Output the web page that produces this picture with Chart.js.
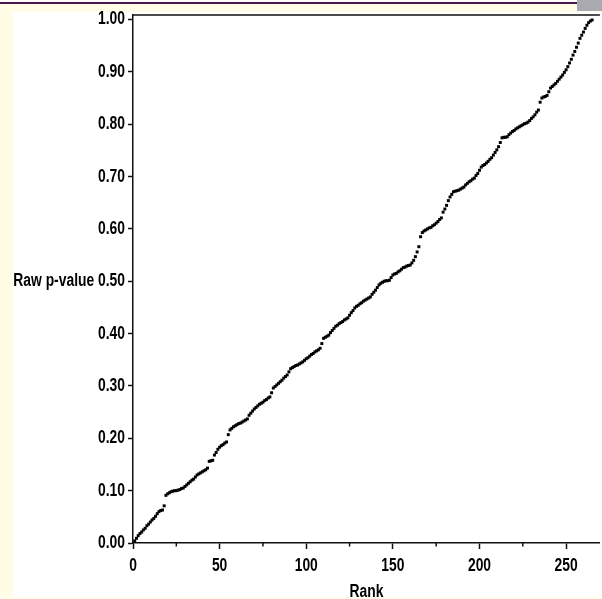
<!DOCTYPE html>
<html><head><meta charset="utf-8">
<script src="https://cdn.jsdelivr.net/npm/chart.js@4.4.1/dist/chart.umd.min.js"></script>
<style>
html,body{margin:0;padding:0;overflow:hidden;background:#fffde6;}
#wrap{position:absolute;left:0;top:0;width:602px;height:599px;}
</style></head>
<body><div id="wrap"><canvas id="c" width="602" height="599"></canvas></div>
<script>
// Raw p-values sorted by rank (rank = position, 1..265)
const pValues = [
0.004,0.009,0.014,0.018,0.021,0.025,0.028,0.033,0.036,0.040,
0.044,0.047,0.051,0.056,0.060,0.062,0.063,0.071,0.091,0.094,
0.096,0.098,0.099,0.100,0.100,0.101,0.102,0.104,0.105,0.108,
0.111,0.114,0.117,0.120,0.122,0.126,0.130,0.132,0.134,0.136,
0.138,0.140,0.143,0.156,0.157,0.158,0.168,0.173,0.179,0.183,
0.186,0.188,0.191,0.193,0.207,0.216,0.219,0.222,0.224,0.226,
0.228,0.229,0.231,0.233,0.235,0.237,0.244,0.248,0.252,0.256,
0.259,0.262,0.265,0.267,0.269,0.272,0.274,0.277,0.279,0.287,
0.296,0.299,0.302,0.305,0.308,0.311,0.315,0.318,0.321,0.327,
0.333,0.335,0.337,0.339,0.340,0.342,0.344,0.346,0.349,0.352,
0.354,0.357,0.360,0.362,0.365,0.367,0.369,0.372,0.381,0.391,
0.393,0.395,0.397,0.402,0.406,0.410,0.414,0.416,0.419,0.421,
0.423,0.426,0.428,0.430,0.435,0.440,0.444,0.449,0.452,0.454,
0.457,0.459,0.462,0.464,0.466,0.468,0.470,0.475,0.479,0.483,
0.488,0.493,0.496,0.498,0.500,0.501,0.501,0.502,0.507,0.512,
0.514,0.515,0.518,0.520,0.523,0.526,0.527,0.529,0.530,0.531,
0.535,0.540,0.547,0.556,0.566,0.585,0.593,0.596,0.598,0.600,
0.602,0.603,0.606,0.608,0.611,0.614,0.618,0.621,0.632,0.638,
0.645,0.654,0.661,0.666,0.671,0.672,0.673,0.674,0.676,0.678,
0.680,0.684,0.687,0.690,0.692,0.695,0.697,0.702,0.706,0.712,
0.718,0.721,0.723,0.726,0.729,0.733,0.736,0.741,0.746,0.751,
0.757,0.765,0.774,0.775,0.775,0.776,0.780,0.783,0.786,0.788,
0.791,0.793,0.795,0.797,0.799,0.801,0.802,0.804,0.807,0.811,
0.814,0.818,0.823,0.827,0.842,0.850,0.852,0.853,0.855,0.862,
0.869,0.872,0.875,0.878,0.882,0.886,0.890,0.894,0.899,0.904,
0.910,0.917,0.924,0.932,0.939,0.947,0.955,0.964,0.970,0.976,
0.983,0.989,0.994,0.997,0.999
];
const xMajorTicks = [0,50,100,150,200,250];
const xMinorTicks = [25,75,125,175,225];
const yTickLabels = ['0.00','0.10','0.20','0.30','0.40','0.50','0.60','0.70','0.80','0.90','1.00'];
const yTitle = 'Raw p-value';
const xTitle = 'Rank';

const FONT = "'Liberation Sans Narrow','Arial Narrow','Liberation Sans',Arial,sans-serif";
const NARROW = 0.77;   // horizontal condensing of text (Arial Narrow look)
const AXIS = '#111111';

const canvas = document.getElementById('c');
const ctx2d = canvas.getContext('2d');
const origFill = ctx2d.fillText.bind(ctx2d);
ctx2d.fillText = function (text, x, y, maxWidth) {
  this.save();
  this.translate(x, y);
  this.scale(NARROW, 1);
  if (maxWidth !== undefined) origFill(text, 0, 0, maxWidth / NARROW);
  else origFill(text, 0, 0);
  this.restore();
};

const points = pValues.map((p, i) => ({x: i + 1, y: p}));

const decor = {
  id: 'decor',
  beforeDraw(chart) {
    const c = chart.ctx;
    c.save();
    c.fillStyle = '#fffde6'; c.fillRect(0, 0, 602, 599);
    c.fillStyle = '#ffffff'; c.fillRect(0, 0, 602, 2);
    c.fillStyle = '#ffffff'; c.fillRect(13, 12, 589, 585);
    c.fillStyle = '#4a1848'; c.fillRect(0, 2, 577, 2);
    c.fillStyle = '#a9a9b2'; c.fillRect(577, 0, 25, 11);
    c.restore();
  },
  afterDraw(chart) {
    const c = chart.ctx, a = chart.chartArea, xs = chart.scales.x;
    c.save();
    c.strokeStyle = AXIS; c.lineWidth = 1.5;
    c.beginPath(); c.moveTo(a.left - 0.75, a.top); c.lineTo(a.right, a.top); c.stroke();
    xMinorTicks.forEach(v => {
      const px = xs.getPixelForValue(v);
      c.beginPath(); c.moveTo(px, a.bottom); c.lineTo(px, a.bottom + 3.5); c.stroke();
    });
    c.fillStyle = '#fffde6'; c.fillRect(0, 597, 602, 2);
    c.restore();
  }
};

new Chart(canvas, {
  type: 'scatter',
  data: { datasets: [{
    data: points,
    pointStyle: 'rect',
    pointRadius: 2.1,
    pointHoverRadius: 2.1,
    borderWidth: 0,
    backgroundColor: '#000000',
    borderColor: '#000000'
  }]},
  options: {
    responsive: false,
    animation: false,
    events: [],
    layout: { padding: { top: 15, right: 0, left: 0, bottom: 0 } },
    plugins: { legend: { display: false }, tooltip: { enabled: false } },
    scales: {
      x: {
        type: 'linear', min: 0, max: 269.5,
        afterFit: s => { s.height = 56; },
        afterBuildTicks: s => { s.ticks = xMajorTicks.map(v => ({value: v})); },
        ticks: { stepSize: 50, includeBounds: false, padding: 6, color: '#000',
                 font: { family: FONT, size: 18, weight: 'bold' }, maxRotation: 0 },
        grid: { drawOnChartArea: false, drawTicks: true, tickLength: 6, tickColor: AXIS, tickWidth: 1.5 },
        border: { display: true, color: AXIS, width: 1.5 },
        title: { display: true, text: xTitle, color: '#000',
                 font: { family: FONT, size: 18, weight: 'bold' }, padding: { top: 0, bottom: -4 } }
      },
      y: {
        type: 'linear', min: 0, max: 1.0086,
        afterFit: s => { s.width = 133; },
        afterBuildTicks: s => { s.ticks = yTickLabels.map(t => ({value: parseFloat(t)})); },
        ticks: {
          stepSize: 0.1, includeBounds: false, padding: 3, color: '#000',
          font: { family: FONT, size: 18, weight: 'bold' },
          callback: (v) => {
            const lbl = yTickLabels.find(t => Math.abs(parseFloat(t) - v) < 1e-6);
            return lbl === '0.50' ? yTitle + ' ' + lbl : lbl;
          }
        },
        grid: { drawOnChartArea: false, drawTicks: true, tickLength: 5, tickColor: AXIS, tickWidth: 1.5 },
        border: { display: true, color: AXIS, width: 1.5 }
      }
    }
  },
  plugins: [decor]
});
</script>
</body></html>
